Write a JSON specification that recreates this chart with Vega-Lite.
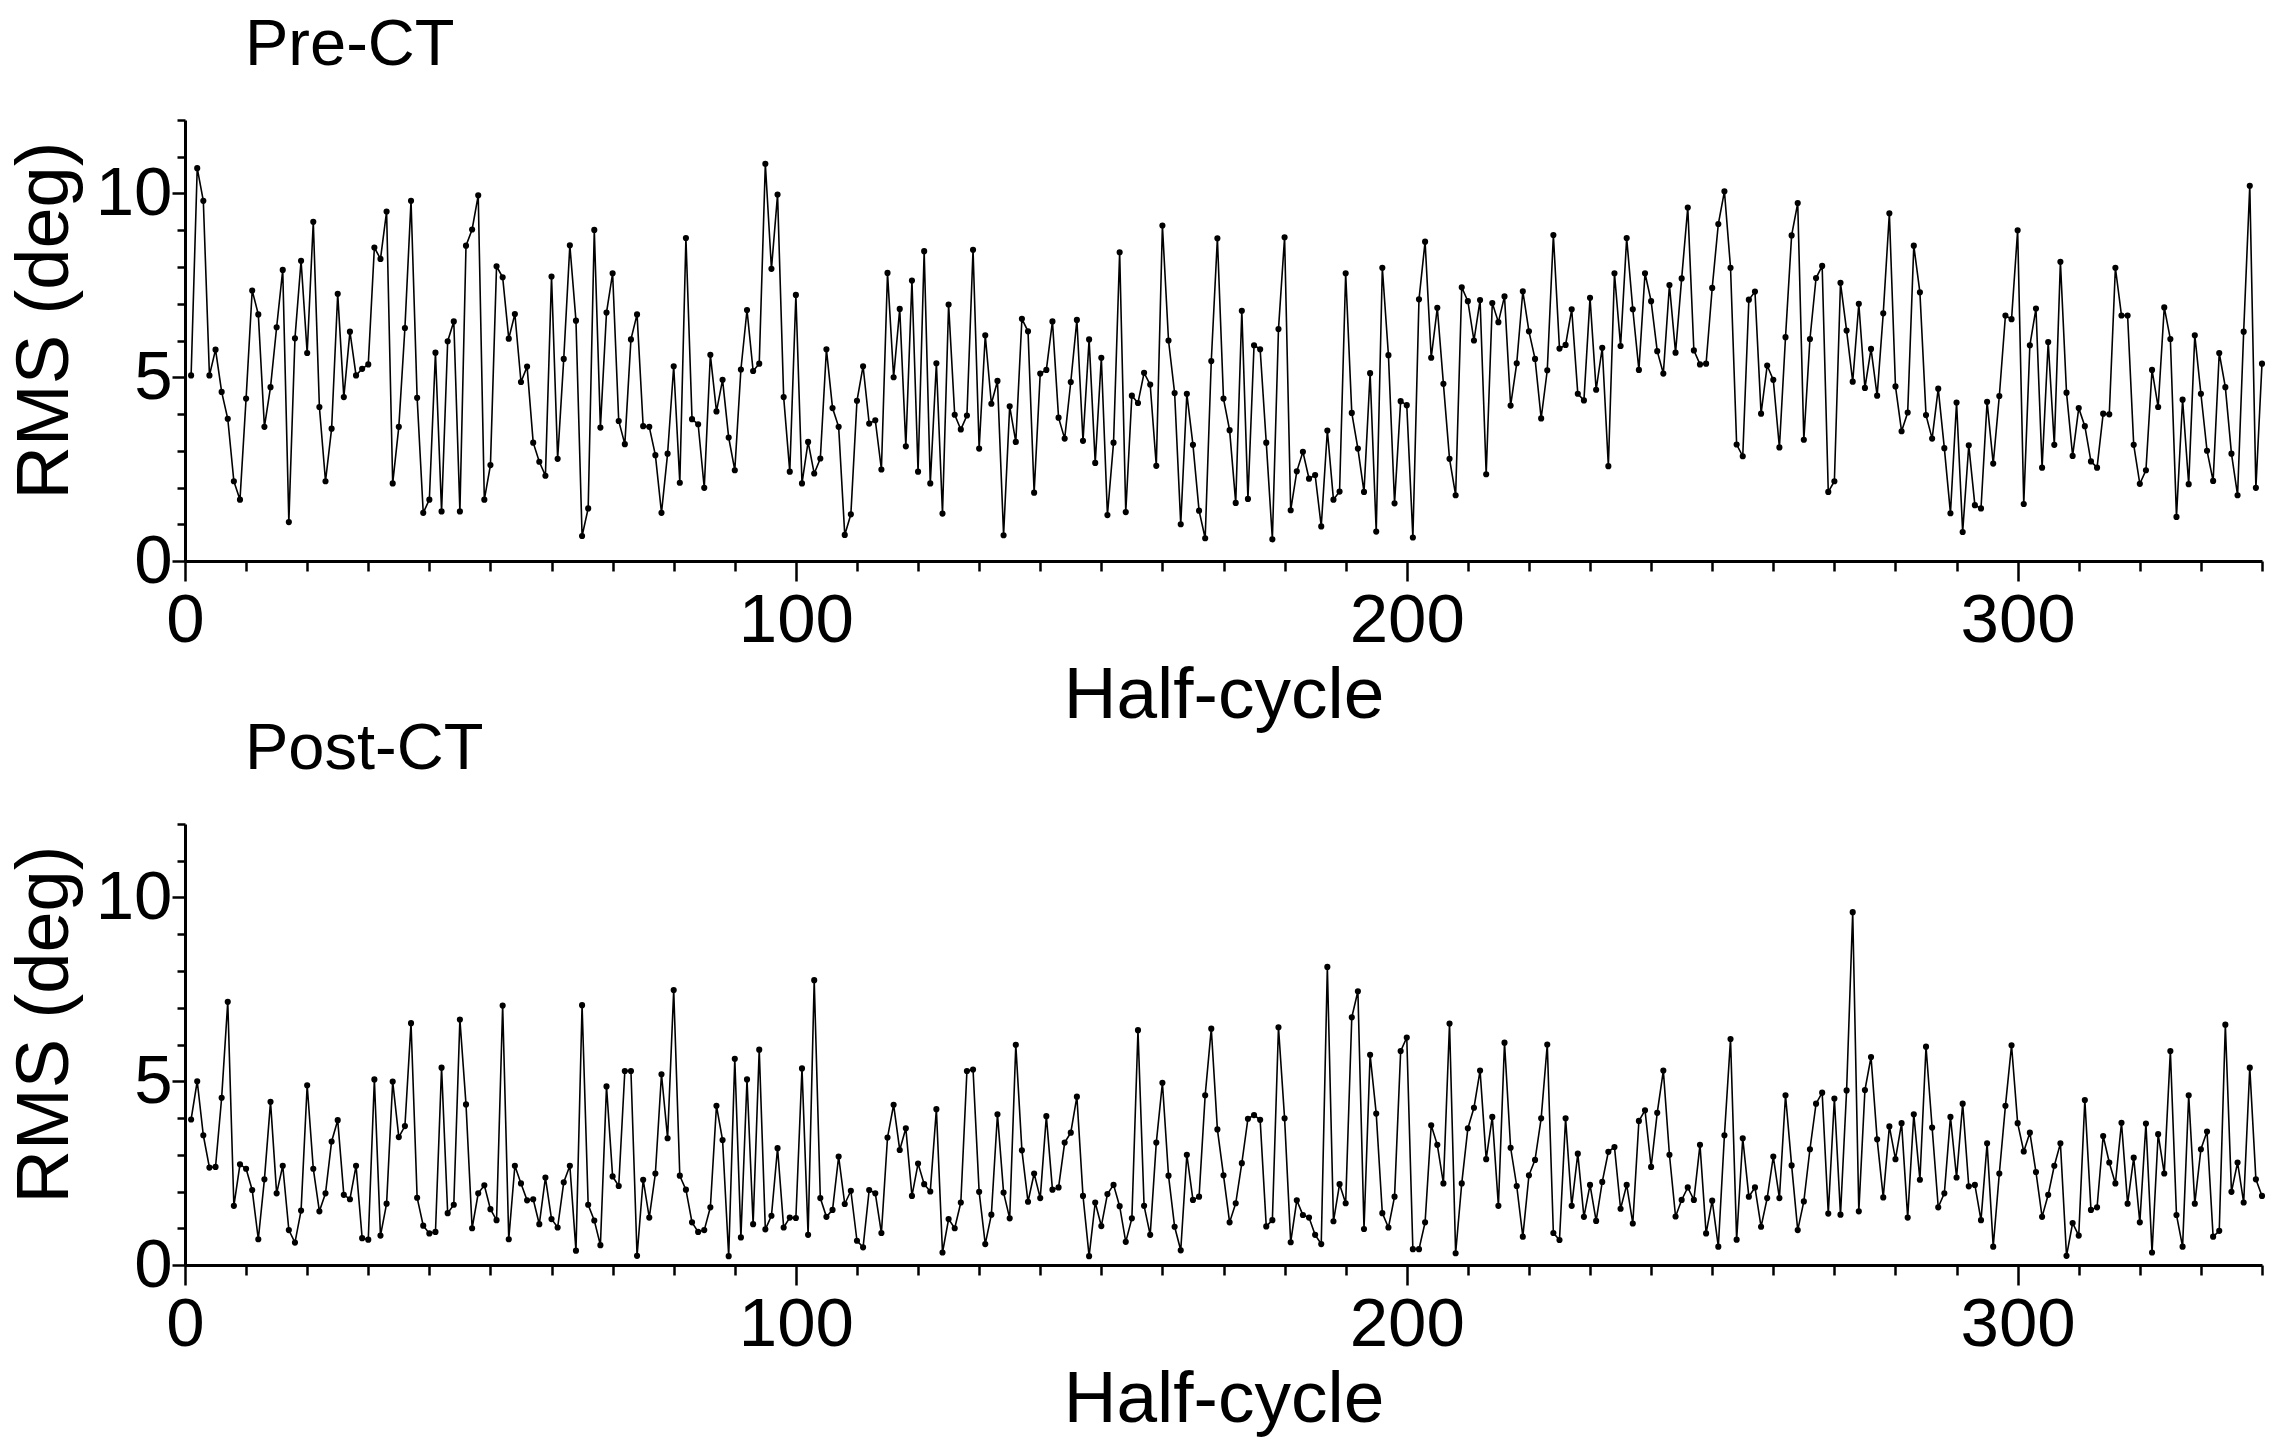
{
"$schema": "https://vega.github.io/schema/vega-lite/v6.json",
"background": "white",
"padding": {"left": 8, "top": 13, "right": 12, "bottom": 10},
"bounds": "flush",
"spacing": 263,
"config": {
  "view": {"stroke": null},
  "font": "Liberation Sans",
  "axis": {"domainColor": "black", "domainWidth": 3, "tickColor": "black", "tickWidth": 2.5, "labelColor": "black", "titleColor": "black", "labelFont": "Liberation Sans", "titleFont": "Liberation Sans", "labelFontSize": 69, "titleFontSize": 73, "titleFontWeight": "normal", "grid": false, "labelFlush": false, "labelOverlap": false},
  "title": {"font": "Liberation Sans", "fontSize": 65, "fontWeight": "normal", "anchor": "start", "frame": "group", "color": "black", "baseline": "alphabetic", "offset": 7, "dx": 60}
},
"datasets": {
"pre": [{"hc":1,"rms":5.05},{"hc":2,"rms":10.69},{"hc":3,"rms":9.8},{"hc":4,"rms":5.05},{"hc":5,"rms":5.75},{"hc":6,"rms":4.6},{"hc":7,"rms":3.87},{"hc":8,"rms":2.17},{"hc":9,"rms":1.67},{"hc":10,"rms":4.42},
{"hc":11,"rms":7.36},{"hc":12,"rms":6.71},{"hc":13,"rms":3.65},{"hc":14,"rms":4.73},{"hc":15,"rms":6.36},{"hc":16,"rms":7.92},{"hc":17,"rms":1.06},{"hc":18,"rms":6.06},{"hc":19,"rms":8.17},{"hc":20,"rms":5.66},
{"hc":21,"rms":9.23},{"hc":22,"rms":4.19},{"hc":23,"rms":2.17},{"hc":24,"rms":3.6},{"hc":25,"rms":7.27},{"hc":26,"rms":4.46},{"hc":27,"rms":6.24},{"hc":28,"rms":5.05},{"hc":29,"rms":5.23},{"hc":30,"rms":5.35},
{"hc":31,"rms":8.53},{"hc":32,"rms":8.22},{"hc":33,"rms":9.51},{"hc":34,"rms":2.11},{"hc":35,"rms":3.65},{"hc":36,"rms":6.34},{"hc":37,"rms":9.8},{"hc":38,"rms":4.44},{"hc":39,"rms":1.31},{"hc":40,"rms":1.67},
{"hc":41,"rms":5.67},{"hc":42,"rms":1.35},{"hc":43,"rms":5.98},{"hc":44,"rms":6.52},{"hc":45,"rms":1.35},{"hc":46,"rms":8.58},{"hc":47,"rms":9.02},{"hc":48,"rms":9.95},{"hc":49,"rms":1.67},{"hc":50,"rms":2.61},
{"hc":51,"rms":8.02},{"hc":52,"rms":7.72},{"hc":53,"rms":6.05},{"hc":54,"rms":6.72},{"hc":55,"rms":4.87},{"hc":56,"rms":5.29},{"hc":57,"rms":3.22},{"hc":58,"rms":2.7},{"hc":59,"rms":2.32},{"hc":60,"rms":7.74},
{"hc":61,"rms":2.78},{"hc":62,"rms":5.5},{"hc":63,"rms":8.59},{"hc":64,"rms":6.54},{"hc":65,"rms":0.68},{"hc":66,"rms":1.43},{"hc":67,"rms":9.01},{"hc":68,"rms":3.63},{"hc":69,"rms":6.76},{"hc":70,"rms":7.83},
{"hc":71,"rms":3.81},{"hc":72,"rms":3.18},{"hc":73,"rms":6.03},{"hc":74,"rms":6.71},{"hc":75,"rms":3.67},{"hc":76,"rms":3.65},{"hc":77,"rms":2.88},{"hc":78,"rms":1.31},{"hc":79,"rms":2.92},{"hc":80,"rms":5.3},
{"hc":81,"rms":2.13},{"hc":82,"rms":8.79},{"hc":83,"rms":3.86},{"hc":84,"rms":3.72},{"hc":85,"rms":1.99},{"hc":86,"rms":5.61},{"hc":87,"rms":4.07},{"hc":88,"rms":4.93},{"hc":89,"rms":3.36},{"hc":90,"rms":2.47},
{"hc":91,"rms":5.21},{"hc":92,"rms":6.83},{"hc":93,"rms":5.17},{"hc":94,"rms":5.37},{"hc":95,"rms":10.81},{"hc":96,"rms":7.95},{"hc":97,"rms":9.97},{"hc":98,"rms":4.46},{"hc":99,"rms":2.43},{"hc":100,"rms":7.24},
{"hc":101,"rms":2.11},{"hc":102,"rms":3.24},{"hc":103,"rms":2.38},{"hc":104,"rms":2.79},{"hc":105,"rms":5.76},{"hc":106,"rms":4.16},{"hc":107,"rms":3.65},{"hc":108,"rms":0.71},{"hc":109,"rms":1.27},{"hc":110,"rms":4.36},
{"hc":111,"rms":5.3},{"hc":112,"rms":3.74},{"hc":113,"rms":3.83},{"hc":114,"rms":2.49},{"hc":115,"rms":7.84},{"hc":116,"rms":5.0},{"hc":117,"rms":6.86},{"hc":118,"rms":3.12},{"hc":119,"rms":7.63},{"hc":120,"rms":2.43},
{"hc":121,"rms":8.43},{"hc":122,"rms":2.11},{"hc":123,"rms":5.38},{"hc":124,"rms":1.29},{"hc":125,"rms":6.98},{"hc":126,"rms":3.98},{"hc":127,"rms":3.58},{"hc":128,"rms":3.96},{"hc":129,"rms":8.47},{"hc":130,"rms":3.06},
{"hc":131,"rms":6.14},{"hc":132,"rms":4.28},{"hc":133,"rms":4.9},{"hc":134,"rms":0.7},{"hc":135,"rms":4.21},{"hc":136,"rms":3.24},{"hc":137,"rms":6.59},{"hc":138,"rms":6.25},{"hc":139,"rms":1.86},{"hc":140,"rms":5.1},
{"hc":141,"rms":5.2},{"hc":142,"rms":6.52},{"hc":143,"rms":3.9},{"hc":144,"rms":3.33},{"hc":145,"rms":4.87},{"hc":146,"rms":6.56},{"hc":147,"rms":3.27},{"hc":148,"rms":6.03},{"hc":149,"rms":2.67},{"hc":150,"rms":5.53},
{"hc":151,"rms":1.25},{"hc":152,"rms":3.22},{"hc":153,"rms":8.4},{"hc":154,"rms":1.33},{"hc":155,"rms":4.5},{"hc":156,"rms":4.3},{"hc":157,"rms":5.12},{"hc":158,"rms":4.8},{"hc":159,"rms":2.59},{"hc":160,"rms":9.13},
{"hc":161,"rms":6.0},{"hc":162,"rms":4.57},{"hc":163,"rms":1.0},{"hc":164,"rms":4.55},{"hc":165,"rms":3.16},{"hc":166,"rms":1.37},{"hc":167,"rms":0.62},{"hc":168,"rms":5.44},{"hc":169,"rms":8.78},{"hc":170,"rms":4.42},
{"hc":171,"rms":3.56},{"hc":172,"rms":1.58},{"hc":173,"rms":6.81},{"hc":174,"rms":1.69},{"hc":175,"rms":5.87},{"hc":176,"rms":5.76},{"hc":177,"rms":3.22},{"hc":178,"rms":0.59},{"hc":179,"rms":6.31},{"hc":180,"rms":8.81},
{"hc":181,"rms":1.38},{"hc":182,"rms":2.44},{"hc":183,"rms":2.97},{"hc":184,"rms":2.24},{"hc":185,"rms":2.34},{"hc":186,"rms":0.94},{"hc":187,"rms":3.55},{"hc":188,"rms":1.67},{"hc":189,"rms":1.89},{"hc":190,"rms":7.83},
{"hc":191,"rms":4.03},{"hc":192,"rms":3.06},{"hc":193,"rms":1.88},{"hc":194,"rms":5.11},{"hc":195,"rms":0.8},{"hc":196,"rms":7.98},{"hc":197,"rms":5.6},{"hc":198,"rms":1.57},{"hc":199,"rms":4.35},{"hc":200,"rms":4.24},
{"hc":201,"rms":0.64},{"hc":202,"rms":7.12},{"hc":203,"rms":8.69},{"hc":204,"rms":5.53},{"hc":205,"rms":6.89},{"hc":206,"rms":4.82},{"hc":207,"rms":2.78},{"hc":208,"rms":1.79},{"hc":209,"rms":7.45},{"hc":210,"rms":7.07},
{"hc":211,"rms":6.0},{"hc":212,"rms":7.1},{"hc":213,"rms":2.36},{"hc":214,"rms":7.02},{"hc":215,"rms":6.5},{"hc":216,"rms":7.2},{"hc":217,"rms":4.23},{"hc":218,"rms":5.38},{"hc":219,"rms":7.34},{"hc":220,"rms":6.25},
{"hc":221,"rms":5.5},{"hc":222,"rms":3.88},{"hc":223,"rms":5.19},{"hc":224,"rms":8.87},{"hc":225,"rms":5.78},{"hc":226,"rms":5.88},{"hc":227,"rms":6.85},{"hc":228,"rms":4.55},{"hc":229,"rms":4.37},{"hc":230,"rms":7.16},
{"hc":231,"rms":4.66},{"hc":232,"rms":5.8},{"hc":233,"rms":2.58},{"hc":234,"rms":7.83},{"hc":235,"rms":5.85},{"hc":236,"rms":8.79},{"hc":237,"rms":6.85},{"hc":238,"rms":5.2},{"hc":239,"rms":7.83},{"hc":240,"rms":7.07},
{"hc":241,"rms":5.71},{"hc":242,"rms":5.1},{"hc":243,"rms":7.51},{"hc":244,"rms":5.67},{"hc":245,"rms":7.69},{"hc":246,"rms":9.62},{"hc":247,"rms":5.73},{"hc":248,"rms":5.35},{"hc":249,"rms":5.37},{"hc":250,"rms":7.43},
{"hc":251,"rms":9.17},{"hc":252,"rms":10.06},{"hc":253,"rms":7.98},{"hc":254,"rms":3.17},{"hc":255,"rms":2.85},{"hc":256,"rms":7.11},{"hc":257,"rms":7.33},{"hc":258,"rms":4.01},{"hc":259,"rms":5.32},{"hc":260,"rms":4.93},
{"hc":261,"rms":3.09},{"hc":262,"rms":6.09},{"hc":263,"rms":8.86},{"hc":264,"rms":9.74},{"hc":265,"rms":3.3},{"hc":266,"rms":6.04},{"hc":267,"rms":7.7},{"hc":268,"rms":8.03},{"hc":269,"rms":1.88},{"hc":270,"rms":2.17},
{"hc":271,"rms":7.57},{"hc":272,"rms":6.27},{"hc":273,"rms":4.88},{"hc":274,"rms":7.0},{"hc":275,"rms":4.71},{"hc":276,"rms":5.77},{"hc":277,"rms":4.5},{"hc":278,"rms":6.74},{"hc":279,"rms":9.46},{"hc":280,"rms":4.75},
{"hc":281,"rms":3.53},{"hc":282,"rms":4.04},{"hc":283,"rms":8.58},{"hc":284,"rms":7.31},{"hc":285,"rms":3.97},{"hc":286,"rms":3.33},{"hc":287,"rms":4.69},{"hc":288,"rms":3.07},{"hc":289,"rms":1.3},{"hc":290,"rms":4.31},
{"hc":291,"rms":0.79},{"hc":292,"rms":3.15},{"hc":293,"rms":1.52},{"hc":294,"rms":1.43},{"hc":295,"rms":4.33},{"hc":296,"rms":2.65},{"hc":297,"rms":4.49},{"hc":298,"rms":6.68},{"hc":299,"rms":6.58},{"hc":300,"rms":9.0},
{"hc":301,"rms":1.55},{"hc":302,"rms":5.87},{"hc":303,"rms":6.87},{"hc":304,"rms":2.54},{"hc":305,"rms":5.96},{"hc":306,"rms":3.16},{"hc":307,"rms":8.14},{"hc":308,"rms":4.58},{"hc":309,"rms":2.86},{"hc":310,"rms":4.16},
{"hc":311,"rms":3.67},{"hc":312,"rms":2.71},{"hc":313,"rms":2.54},{"hc":314,"rms":4.01},{"hc":315,"rms":3.99},{"hc":316,"rms":7.98},{"hc":317,"rms":6.68},{"hc":318,"rms":6.68},{"hc":319,"rms":3.16},{"hc":320,"rms":2.1},
{"hc":321,"rms":2.47},{"hc":322,"rms":5.2},{"hc":323,"rms":4.19},{"hc":324,"rms":6.9},{"hc":325,"rms":6.04},{"hc":326,"rms":1.2},{"hc":327,"rms":4.39},{"hc":328,"rms":2.09},{"hc":329,"rms":6.14},{"hc":330,"rms":4.55},
{"hc":331,"rms":3.0},{"hc":332,"rms":2.18},{"hc":333,"rms":5.66},{"hc":334,"rms":4.73},{"hc":335,"rms":2.92},{"hc":336,"rms":1.79},{"hc":337,"rms":6.24},{"hc":338,"rms":10.21},{"hc":339,"rms":1.99},{"hc":340,"rms":5.37}],
"post": [{"hc":1,"rms":3.96},{"hc":2,"rms":5.0},{"hc":3,"rms":3.53},{"hc":4,"rms":2.65},{"hc":5,"rms":2.67},{"hc":6,"rms":4.55},{"hc":7,"rms":7.16},{"hc":8,"rms":1.61},{"hc":9,"rms":2.74},{"hc":10,"rms":2.62},
{"hc":11,"rms":2.04},{"hc":12,"rms":0.7},{"hc":13,"rms":2.33},{"hc":14,"rms":4.44},{"hc":15,"rms":1.95},{"hc":16,"rms":2.7},{"hc":17,"rms":0.95},{"hc":18,"rms":0.61},{"hc":19,"rms":1.48},{"hc":20,"rms":4.89},
{"hc":21,"rms":2.62},{"hc":22,"rms":1.46},{"hc":23,"rms":1.95},{"hc":24,"rms":3.36},{"hc":25,"rms":3.94},{"hc":26,"rms":1.91},{"hc":27,"rms":1.79},{"hc":28,"rms":2.7},{"hc":29,"rms":0.73},{"hc":30,"rms":0.69},
{"hc":31,"rms":5.05},{"hc":32,"rms":0.8},{"hc":33,"rms":1.67},{"hc":34,"rms":4.99},{"hc":35,"rms":3.48},{"hc":36,"rms":3.78},{"hc":37,"rms":6.58},{"hc":38,"rms":1.83},{"hc":39,"rms":1.07},{"hc":40,"rms":0.86},
{"hc":41,"rms":0.9},{"hc":42,"rms":5.37},{"hc":43,"rms":1.41},{"hc":44,"rms":1.64},{"hc":45,"rms":6.68},{"hc":46,"rms":4.37},{"hc":47,"rms":1.0},{"hc":48,"rms":1.95},{"hc":49,"rms":2.17},{"hc":50,"rms":1.52},
{"hc":51,"rms":1.22},{"hc":52,"rms":7.06},{"hc":53,"rms":0.7},{"hc":54,"rms":2.7},{"hc":55,"rms":2.22},{"hc":56,"rms":1.76},{"hc":57,"rms":1.79},{"hc":58,"rms":1.11},{"hc":59,"rms":2.38},{"hc":60,"rms":1.25},
{"hc":61,"rms":1.02},{"hc":62,"rms":2.25},{"hc":63,"rms":2.7},{"hc":64,"rms":0.39},{"hc":65,"rms":7.07},{"hc":66,"rms":1.64},{"hc":67,"rms":1.21},{"hc":68,"rms":0.54},{"hc":69,"rms":4.86},{"hc":70,"rms":2.41},
{"hc":71,"rms":2.15},{"hc":72,"rms":5.28},{"hc":73,"rms":5.28},{"hc":74,"rms":0.25},{"hc":75,"rms":2.32},{"hc":76,"rms":1.29},{"hc":77,"rms":2.49},{"hc":78,"rms":5.19},{"hc":79,"rms":3.45},{"hc":80,"rms":7.48},
{"hc":81,"rms":2.43},{"hc":82,"rms":2.05},{"hc":83,"rms":1.16},{"hc":84,"rms":0.9},{"hc":85,"rms":0.95},{"hc":86,"rms":1.57},{"hc":87,"rms":4.33},{"hc":88,"rms":3.4},{"hc":89,"rms":0.24},{"hc":90,"rms":5.61},
{"hc":91,"rms":0.75},{"hc":92,"rms":5.05},{"hc":93,"rms":1.11},{"hc":94,"rms":5.86},{"hc":95,"rms":0.97},{"hc":96,"rms":1.34},{"hc":97,"rms":3.18},{"hc":98,"rms":1.02},{"hc":99,"rms":1.29},{"hc":100,"rms":1.28},
{"hc":101,"rms":5.35},{"hc":102,"rms":0.82},{"hc":103,"rms":7.75},{"hc":104,"rms":1.82},{"hc":105,"rms":1.31},{"hc":106,"rms":1.5},{"hc":107,"rms":2.95},{"hc":108,"rms":1.66},{"hc":109,"rms":2.02},{"hc":110,"rms":0.66},
{"hc":111,"rms":0.48},{"hc":112,"rms":2.04},{"hc":113,"rms":1.95},{"hc":114,"rms":0.87},{"hc":115,"rms":3.47},{"hc":116,"rms":4.36},{"hc":117,"rms":3.13},{"hc":118,"rms":3.72},{"hc":119,"rms":1.88},{"hc":120,"rms":2.76},
{"hc":121,"rms":2.2},{"hc":122,"rms":2.0},{"hc":123,"rms":4.24},{"hc":124,"rms":0.34},{"hc":125,"rms":1.25},{"hc":126,"rms":1.0},{"hc":127,"rms":1.7},{"hc":128,"rms":5.28},{"hc":129,"rms":5.32},{"hc":130,"rms":1.99},
{"hc":131,"rms":0.57},{"hc":132,"rms":1.37},{"hc":133,"rms":4.1},{"hc":134,"rms":1.97},{"hc":135,"rms":1.27},{"hc":136,"rms":5.99},{"hc":137,"rms":3.12},{"hc":138,"rms":1.72},{"hc":139,"rms":2.49},{"hc":140,"rms":1.82},
{"hc":141,"rms":4.05},{"hc":142,"rms":2.05},{"hc":143,"rms":2.11},{"hc":144,"rms":3.33},{"hc":145,"rms":3.6},{"hc":146,"rms":4.58},{"hc":147,"rms":1.88},{"hc":148,"rms":0.24},{"hc":149,"rms":1.7},{"hc":150,"rms":1.06},
{"hc":151,"rms":1.93},{"hc":152,"rms":2.18},{"hc":153,"rms":1.6},{"hc":154,"rms":0.63},{"hc":155,"rms":1.27},{"hc":156,"rms":6.39},{"hc":157,"rms":1.61},{"hc":158,"rms":0.82},{"hc":159,"rms":3.33},{"hc":160,"rms":4.96},
{"hc":161,"rms":2.43},{"hc":162,"rms":1.04},{"hc":163,"rms":0.4},{"hc":164,"rms":3.0},{"hc":165,"rms":1.77},{"hc":166,"rms":1.86},{"hc":167,"rms":4.62},{"hc":168,"rms":6.43},{"hc":169,"rms":3.69},{"hc":170,"rms":2.44},
{"hc":171,"rms":1.16},{"hc":172,"rms":1.68},{"hc":173,"rms":2.77},{"hc":174,"rms":3.98},{"hc":175,"rms":4.08},{"hc":176,"rms":3.95},{"hc":177,"rms":1.05},{"hc":178,"rms":1.22},{"hc":179,"rms":6.47},{"hc":180,"rms":3.99},
{"hc":181,"rms":0.62},{"hc":182,"rms":1.76},{"hc":183,"rms":1.36},{"hc":184,"rms":1.29},{"hc":185,"rms":0.82},{"hc":186,"rms":0.57},{"hc":187,"rms":8.11},{"hc":188,"rms":1.19},{"hc":189,"rms":2.2},{"hc":190,"rms":1.68},
{"hc":191,"rms":6.74},{"hc":192,"rms":7.45},{"hc":193,"rms":0.98},{"hc":194,"rms":5.72},{"hc":195,"rms":4.12},{"hc":196,"rms":1.41},{"hc":197,"rms":1.02},{"hc":198,"rms":1.86},{"hc":199,"rms":5.82},{"hc":200,"rms":6.19},
{"hc":201,"rms":0.43},{"hc":202,"rms":0.43},{"hc":203,"rms":1.16},{"hc":204,"rms":3.8},{"hc":205,"rms":3.27},{"hc":206,"rms":2.22},{"hc":207,"rms":6.57},{"hc":208,"rms":0.32},{"hc":209,"rms":2.22},{"hc":210,"rms":3.72},
{"hc":211,"rms":4.28},{"hc":212,"rms":5.29},{"hc":213,"rms":2.88},{"hc":214,"rms":4.03},{"hc":215,"rms":1.61},{"hc":216,"rms":6.05},{"hc":217,"rms":3.19},{"hc":218,"rms":2.15},{"hc":219,"rms":0.77},{"hc":220,"rms":2.44},
{"hc":221,"rms":2.86},{"hc":222,"rms":3.99},{"hc":223,"rms":6.0},{"hc":224,"rms":0.87},{"hc":225,"rms":0.68},{"hc":226,"rms":3.99},{"hc":227,"rms":1.61},{"hc":228,"rms":3.03},{"hc":229,"rms":1.31},{"hc":230,"rms":2.18},
{"hc":231,"rms":1.2},{"hc":232,"rms":2.26},{"hc":233,"rms":3.08},{"hc":234,"rms":3.21},{"hc":235,"rms":1.53},{"hc":236,"rms":2.18},{"hc":237,"rms":1.13},{"hc":238,"rms":3.92},{"hc":239,"rms":4.21},{"hc":240,"rms":2.67},
{"hc":241,"rms":4.14},{"hc":242,"rms":5.29},{"hc":243,"rms":3.0},{"hc":244,"rms":1.32},{"hc":245,"rms":1.77},{"hc":246,"rms":2.11},{"hc":247,"rms":1.77},{"hc":248,"rms":3.27},{"hc":249,"rms":0.86},{"hc":250,"rms":1.75},
{"hc":251,"rms":0.5},{"hc":252,"rms":3.53},{"hc":253,"rms":6.15},{"hc":254,"rms":0.69},{"hc":255,"rms":3.45},{"hc":256,"rms":1.86},{"hc":257,"rms":2.11},{"hc":258,"rms":1.04},{"hc":259,"rms":1.82},{"hc":260,"rms":2.95},
{"hc":261,"rms":1.82},{"hc":262,"rms":4.62},{"hc":263,"rms":2.71},{"hc":264,"rms":0.95},{"hc":265,"rms":1.73},{"hc":266,"rms":3.15},{"hc":267,"rms":4.39},{"hc":268,"rms":4.69},{"hc":269,"rms":1.4},{"hc":270,"rms":4.53},
{"hc":271,"rms":1.37},{"hc":272,"rms":4.75},{"hc":273,"rms":9.6},{"hc":274,"rms":1.46},{"hc":275,"rms":4.76},{"hc":276,"rms":5.66},{"hc":277,"rms":3.42},{"hc":278,"rms":1.84},{"hc":279,"rms":3.77},{"hc":280,"rms":2.88},
{"hc":281,"rms":3.86},{"hc":282,"rms":1.29},{"hc":283,"rms":4.1},{"hc":284,"rms":2.32},{"hc":285,"rms":5.94},{"hc":286,"rms":3.74},{"hc":287,"rms":1.57},{"hc":288,"rms":1.95},{"hc":289,"rms":4.03},{"hc":290,"rms":2.38},
{"hc":291,"rms":4.39},{"hc":292,"rms":2.14},{"hc":293,"rms":2.18},{"hc":294,"rms":1.22},{"hc":295,"rms":3.31},{"hc":296,"rms":0.5},{"hc":297,"rms":2.49},{"hc":298,"rms":4.33},{"hc":299,"rms":5.98},{"hc":300,"rms":3.86},
{"hc":301,"rms":3.09},{"hc":302,"rms":3.6},{"hc":303,"rms":2.53},{"hc":304,"rms":1.31},{"hc":305,"rms":1.91},{"hc":306,"rms":2.7},{"hc":307,"rms":3.31},{"hc":308,"rms":0.25},{"hc":309,"rms":1.14},{"hc":310,"rms":0.8},
{"hc":311,"rms":4.49},{"hc":312,"rms":1.5},{"hc":313,"rms":1.57},{"hc":314,"rms":3.51},{"hc":315,"rms":2.79},{"hc":316,"rms":2.22},{"hc":317,"rms":3.87},{"hc":318,"rms":1.67},{"hc":319,"rms":2.92},{"hc":320,"rms":1.16},
{"hc":321,"rms":3.85},{"hc":322,"rms":0.34},{"hc":323,"rms":3.56},{"hc":324,"rms":2.49},{"hc":325,"rms":5.82},{"hc":326,"rms":1.36},{"hc":327,"rms":0.5},{"hc":328,"rms":4.62},{"hc":329,"rms":1.67},{"hc":330,"rms":3.15},
{"hc":331,"rms":3.63},{"hc":332,"rms":0.77},{"hc":333,"rms":0.93},{"hc":334,"rms":6.54},{"hc":335,"rms":1.99},{"hc":336,"rms":2.79},{"hc":337,"rms":1.7},{"hc":338,"rms":5.37},{"hc":339,"rms":2.33},{"hc":340,"rms":1.88}]
},
"vconcat": [
{
  "title": {"text": "Pre-CT"},
  "width": 2077, "height": 441,
  "data": {"name": "pre"},
  "encoding": {
    "x": {"field": "hc", "type": "quantitative", "scale": {"domain": [0, 340], "nice": false},
      "axis": {"title": "Half-cycle", "values": [0,10,20,30,40,50,60,70,80,90,100,110,120,130,140,150,160,170,180,190,200,210,220,230,240,250,260,270,280,290,300,310,320,330,340],
        "labelExpr": "datum.value % 100 === 0 ? datum.label : ''",
        "tickSize": {"condition": {"test": "datum.value % 100 === 0", "value": 20}, "value": 10},
        "labelPadding": 5, "titlePadding": 4}},
    "y": {"field": "rms", "type": "quantitative", "scale": {"domain": [0, 12], "nice": false},
      "axis": {"title": "RMS (deg)", "titleFontSize": 74, "titleY": 200, "values": [0,1,2,3,4,5,6,7,8,9,10,11,12],
        "labelExpr": "datum.value % 5 === 0 ? datum.label : ''",
        "tickSize": {"condition": {"test": "datum.value % 5 === 0", "value": 13}, "value": 8},
        "labelPadding": 0, "titlePadding": 12}}
  },
  "layer": [
    {"mark": {"type": "line", "color": "black", "strokeWidth": 1.6}},
    {"mark": {"type": "circle", "color": "black", "size": 38, "opacity": 1}}
  ]
},
{
  "title": {"text": "Post-CT"},
  "width": 2077, "height": 441,
  "data": {"name": "post"},
  "encoding": {
    "x": {"field": "hc", "type": "quantitative", "scale": {"domain": [0, 340], "nice": false},
      "axis": {"title": "Half-cycle", "values": [0,10,20,30,40,50,60,70,80,90,100,110,120,130,140,150,160,170,180,190,200,210,220,230,240,250,260,270,280,290,300,310,320,330,340],
        "labelExpr": "datum.value % 100 === 0 ? datum.label : ''",
        "tickSize": {"condition": {"test": "datum.value % 100 === 0", "value": 20}, "value": 10},
        "labelPadding": 5, "titlePadding": 4}},
    "y": {"field": "rms", "type": "quantitative", "scale": {"domain": [0, 12], "nice": false},
      "axis": {"title": "RMS (deg)", "titleFontSize": 74, "titleY": 200, "values": [0,1,2,3,4,5,6,7,8,9,10,11,12],
        "labelExpr": "datum.value % 5 === 0 ? datum.label : ''",
        "tickSize": {"condition": {"test": "datum.value % 5 === 0", "value": 13}, "value": 8},
        "labelPadding": 0, "titlePadding": 12}}
  },
  "layer": [
    {"mark": {"type": "line", "color": "black", "strokeWidth": 1.6}},
    {"mark": {"type": "circle", "color": "black", "size": 38, "opacity": 1}}
  ]
}
]
}
